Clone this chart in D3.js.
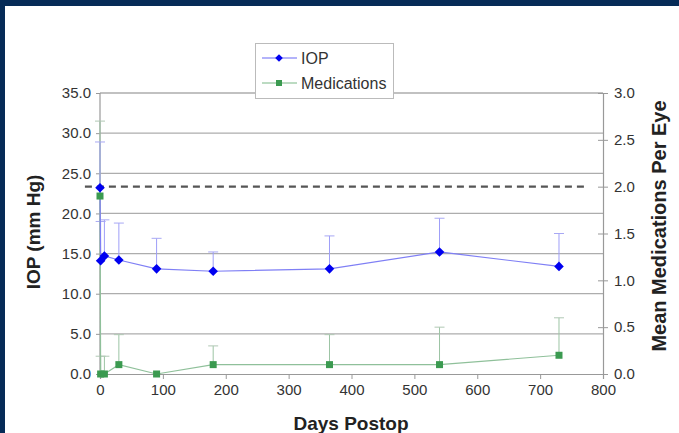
<!DOCTYPE html>
<html><head><meta charset="utf-8">
<script src="https://cdn.jsdelivr.net/npm/d3@7"></script>
<style>html,body{margin:0;padding:0;background:#fff;}svg{display:block;}text{font-family:"Liberation Sans",Arial,sans-serif;}</style>
</head><body><div id="chart"></div>
<script>
const days = [0, 1, 7, 30, 90, 180, 365, 540, 730];
const iop = [23.2, 14.1, 14.7, 14.2, 13.1, 12.8, 13.1, 15.2, 13.4];
const iopErrTop = [28.9, 19.0, 19.2, 18.8, 16.9, 15.2, 17.2, 19.4, 17.5];
const meds = [1.9, 0.0, 0.0, 0.1, 0.0, 0.1, 0.1, 0.1, 0.2];
const medsErrTop = [2.7, 0.19, 0.19, 0.42, 0.0, 0.3, 0.42, 0.5, 0.6];
const xTicks = [0, 100, 200, 300, 400, 500, 600, 700, 800];
const leftTicks = [0, 5, 10, 15, 20, 25, 30, 35];
const rightTicks = [0, 0.5, 1.0, 1.5, 2.0, 2.5, 3.0];
const refMeds = 2.0;

const W = 679, H = 433;
const svg = d3.select("#chart").append("svg").attr("width", W).attr("height", H);
svg.append("rect").attr("width", W).attr("height", H).attr("fill", "#062b57");
svg.append("rect").attr("x", 5).attr("y", 6).attr("width", W - 5).attr("height", H - 6).attr("fill", "#fff");

const x = d3.scaleLinear().domain([0, 800]).range([100, 603]);
const yL = d3.scaleLinear().domain([0, 35]).range([374, 93]);
const yR = d3.scaleLinear().domain([0, 3]).range([374, 93]);

// gridlines
svg.append("g").selectAll("line").data(leftTicks.filter(d => d > 0)).join("line")
  .attr("x1", 100).attr("x2", 603).attr("y1", d => yL(d)).attr("y2", d => yL(d))
  .attr("stroke", "#adadad").attr("stroke-width", 1.3);

// axes
const axL = svg.append("g").attr("transform", "translate(100,0)")
  .call(d3.axisLeft(yL).tickValues(leftTicks).tickFormat(d3.format(".1f")).tickSize(4).tickPadding(5));
const axR = svg.append("g").attr("transform", "translate(603,0)")
  .call(d3.axisRight(yR).tickValues(rightTicks).tickFormat(d3.format(".1f")).tickSize(5).tickPadding(6));
axR.selectAll(".tick line").attr("x1", -5);
const axB = svg.append("g").attr("transform", "translate(0,374)")
  .call(d3.axisBottom(x).tickValues(xTicks).tickFormat(d3.format("d")).tickSize(5).tickPadding(5));
[axL, axR, axB].forEach(a => {
  a.select(".domain").attr("stroke", "#999").attr("stroke-width", 1.2);
  a.selectAll(".tick line").attr("stroke", "#999");
  a.selectAll(".tick text").attr("fill", "#333").attr("font-size", 15)
   .attr("font-family", "'Liberation Sans',Arial,sans-serif");
});
axL.select(".domain").remove();
svg.append("line").attr("x1", 100).attr("x2", 100).attr("y1", 93).attr("y2", 374).attr("stroke", "#999").attr("stroke-width", 1.2);

// dashed reference
svg.append("line").attr("x1", x(-24)).attr("x2", x(770)).attr("y1", yR(refMeds)).attr("y2", yR(refMeds))
  .attr("stroke", "#555").attr("stroke-width", 2.2).attr("stroke-dasharray", "7,5");

const idx = d3.range(days.length);
// medication error bars
const gM = svg.append("g");
gM.selectAll("line.e").data(idx.filter(i => medsErrTop[i] > meds[i])).join("line")
  .attr("x1", i => x(days[i])).attr("x2", i => x(days[i]))
  .attr("y1", i => yR(meds[i])).attr("y2", i => yR(medsErrTop[i]))
  .attr("stroke", "#9cc4a4").attr("stroke-width", 1);
gM.selectAll("line.c").data(idx.filter(i => medsErrTop[i] > meds[i])).join("line")
  .attr("x1", i => x(days[i]) - 5).attr("x2", i => x(days[i]) + 5)
  .attr("y1", i => yR(medsErrTop[i])).attr("y2", i => yR(medsErrTop[i]))
  .attr("stroke", "#b0c8b4").attr("stroke-width", 1);
// IOP error bars
const gI = svg.append("g");
gI.selectAll("line.e").data(idx).join("line")
  .attr("x1", i => x(days[i])).attr("x2", i => x(days[i]))
  .attr("y1", i => yL(iop[i])).attr("y2", i => yL(iopErrTop[i]))
  .attr("stroke", "#9e9ef8").attr("stroke-width", 1);
gI.selectAll("line.c").data(idx).join("line")
  .attr("x1", i => x(days[i]) - 5).attr("x2", i => x(days[i]) + 5)
  .attr("y1", i => yL(iopErrTop[i])).attr("y2", i => yL(iopErrTop[i]))
  .attr("stroke", "#a8a8f4").attr("stroke-width", 1);

// series lines
svg.append("path").datum(idx).attr("fill", "none").attr("stroke", "#8fc09a").attr("stroke-width", 1.2)
  .attr("d", d3.line().x(i => x(days[i])).y(i => yR(meds[i])));
svg.append("path").datum(idx).attr("fill", "none").attr("stroke", "#7f7ff5").attr("stroke-width", 1.2)
  .attr("d", d3.line().x(i => x(days[i])).y(i => yL(iop[i])));

// markers
svg.append("g").selectAll("rect").data(idx).join("rect")
  .attr("x", i => x(days[i]) - 3.5).attr("y", i => yR(meds[i]) - 3.5).attr("width", 7).attr("height", 7)
  .attr("fill", "#3b9a50");
const diamond = "M0,-4.8L4.8,0L0,4.8L-4.8,0Z";
svg.append("g").selectAll("path").data(idx).join("path")
  .attr("transform", i => `translate(${x(days[i])},${yL(iop[i])})`).attr("d", diamond).attr("fill", "#0000f0");

// legend
const lg = svg.append("g");
lg.append("rect").attr("x", 255.5).attr("y", 43.5).attr("width", 138).attr("height", 55)
  .attr("fill", "#fff").attr("stroke", "#bbb").attr("stroke-width", 1);
const legendItems = [
  {name: "IOP", line: "#9a9af8", kind: "diamond", color: "#0000f0"},
  {name: "Medications", line: "#a6cfae", kind: "square", color: "#3b9a50"}
];
legendItems.forEach((it, k) => {
  const yy = 58 + k * 25;
  lg.append("line").attr("x1", 262).attr("x2", 297).attr("y1", yy).attr("y2", yy).attr("stroke", it.line).attr("stroke-width", 1.5);
  if (it.kind === "diamond") lg.append("path").attr("transform", `translate(279,${yy}) scale(0.8)`).attr("d", diamond).attr("fill", it.color);
  else lg.append("rect").attr("x", 276).attr("y", yy - 3).attr("width", 6).attr("height", 6).attr("fill", it.color);
  lg.append("text").attr("x", 301).attr("y", yy + 5.5).attr("font-size", 16).attr("fill", "#333").text(it.name);
});

// axis titles
svg.append("text").attr("x", 351).attr("y", 430).attr("text-anchor", "middle").attr("font-size", 19)
  .attr("font-weight", "bold").attr("fill", "#222").text("Days Postop");
svg.append("text").attr("transform", "translate(40,232) rotate(-90)").attr("text-anchor", "middle").attr("font-size", 19)
  .attr("font-weight", "bold").attr("fill", "#222").text("IOP (mm Hg)");
svg.append("text").attr("transform", "translate(666,226) rotate(-90)").attr("text-anchor", "middle").attr("font-size", 20)
  .attr("font-weight", "bold").attr("fill", "#222").text("Mean Medications Per Eye");
</script></body></html>
